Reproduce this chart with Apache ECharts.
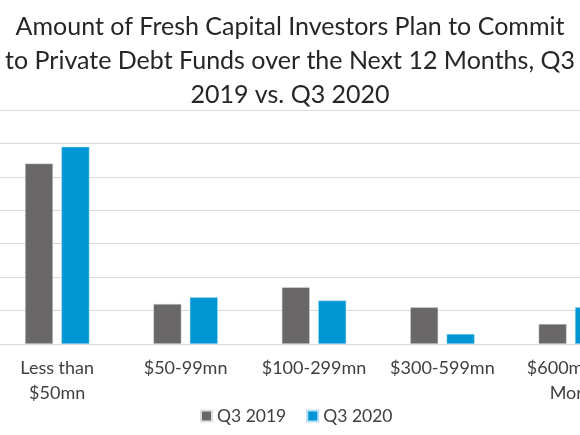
<!DOCTYPE html>
<html lang="en">
<head>
    <meta charset="UTF-8">
    <title>Private Debt Fresh Capital</title>
    <script src="https://cdn.jsdelivr.net/npm/echarts@6/dist/echarts.min.js"></script>
    <style>
        html, body { margin: 0; padding: 0; background: #fff; overflow: hidden; }
        #wrap { position: relative; width: 580px; height: 435px; overflow: hidden; }
        /* the plot runs past both edges of the picture */
        #chart { position: absolute; left: -7px; top: 0; width: 642px; height: 435px; }
    </style>
</head>
<body>
<div id="wrap"><div id="chart"></div></div>
<script>
    // share of investors (%) by amount of fresh capital
    const categories = ['Less than\n$50mn', '$50-99mn', '$100-299mn', '$300-599mn', '$600mn or\nMore']
    const q3_2019 = [54, 12, 17, 11, 6]
    const q3_2020 = [59, 14, 13, 3, 11]
    const seriesNames = ['Q3 2019', 'Q3 2020']

    const textFont = 'Lato, "Noto Sans", sans-serif'
    let myChart = echarts.init(document.getElementById('chart'))

    let option = {
        animation: false,
        title: {
            text: 'Amount of Fresh Capital Investors Plan to Commit\nto Private Debt Funds over the Next 12 Months, Q3\n2019 vs. Q3 2020',
            left: 292,
            top: 5,
            textAlign: 'center',
            textStyle: {
                fontFamily: textFont,
                fontSize: 25,
                fontWeight: 'normal',
                color: '#262626',
                lineHeight: 34
            }
        },
        legend: {
            data: seriesNames,
            left: 202,
            top: 402,
            itemWidth: 11,
            itemHeight: 11,
            itemGap: 20,
            icon: 'rect',
            textStyle: {
                fontFamily: textFont,
                fontSize: 17.5,
                color: '#404040'
            }
        },
        grid: {
            left: 0,
            right: 0,
            top: 110,
            bottom: 91,
            containLabel: false
        },
        xAxis: {
            type: 'category',
            data: categories,
            axisTick: {show: false},
            axisLine: {lineStyle: {color: '#d9d9d9', width: 1}},
            axisLabel: {
                fontFamily: textFont,
                fontSize: 18,
                color: '#404040',
                lineHeight: 25,
                margin: 12,
                interval: 0
            }
        },
        yAxis: {
            type: 'value',
            min: 0,
            max: 70,
            interval: 10,
            axisLabel: {show: false},
            axisLine: {show: false},
            axisTick: {show: false},
            splitLine: {lineStyle: {color: '#d9d9d9', width: 1}}
        },
        series: [{
            name: seriesNames[0],
            type: 'bar',
            data: q3_2019,
            barWidth: 28,
            barGap: '30%',
            itemStyle: {color: '#696767', borderColor: '#e0e0e0', borderWidth: 0.5}
        }, {
            name: seriesNames[1],
            type: 'bar',
            data: q3_2020,
            barWidth: 28,
            itemStyle: {color: '#0096d6', borderColor: '#b3e0f5', borderWidth: 0.5}
        }]
    }
    myChart.setOption(option)
</script>
</body>
</html>
